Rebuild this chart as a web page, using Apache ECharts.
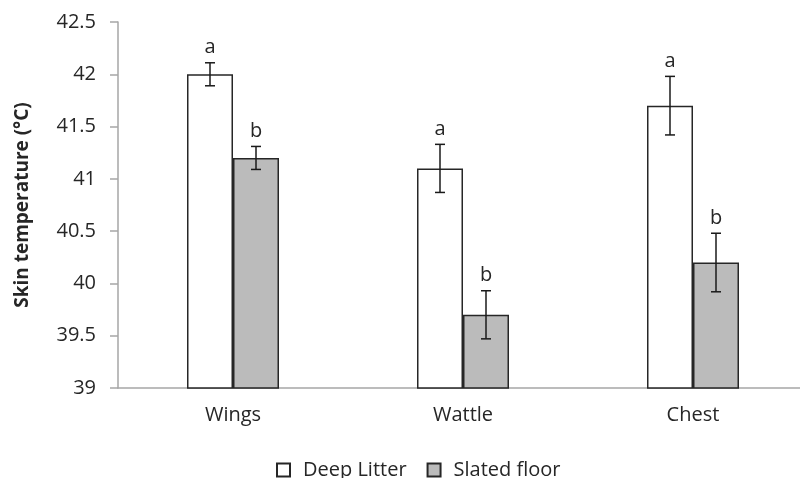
<!DOCTYPE html>
<html><head><meta charset="utf-8">
<script src="https://cdn.jsdelivr.net/npm/echarts@6/dist/echarts.min.js"></script>
<style>html,body{margin:0;padding:0;background:#fff}#c{width:800px;height:478px}</style>
</head><body><div id="c"></div>
<script>
var categories = ['Wings', 'Wattle', 'Chest'];
var deepLitter = [42.0, 41.1, 41.7];
var deepLitterErr = [0.11, 0.23, 0.28];
var deepLitterSig = ['a', 'a', 'a'];
var slatedFloor = [41.2, 39.7, 40.2];
var slatedFloorErr = [0.11, 0.23, 0.28];
var slatedFloorSig = ['b', 'b', 'b'];
var yTicks = { min: 39, max: 42.5, interval: 0.5 };

var FONT = '"Open Sans", "Noto Sans", sans-serif';
var TXT = '#262626';

function errData(vals, errs, sigs) {
  return vals.map(function (v, i) { return [i, v, v - errs[i], v + errs[i], sigs[i]]; });
}
function errRender(sign) {
  return function (params, api) {
    var i = api.value(0);
    var band = api.size([1, 0])[0];
    var off = sign * band * 0.1;
    var lo = api.coord([i, api.value(2)]);
    var hi = api.coord([i, api.value(3)]);
    var x = lo[0] + off;
    var cap = 5;
    var st = { stroke: '#1a1a1a', lineWidth: 1.5 };
    return {
      type: 'group',
      children: [
        { type: 'line', shape: { x1: x, y1: lo[1], x2: x, y2: hi[1] }, style: st },
        { type: 'line', shape: { x1: x - cap, y1: lo[1], x2: x + cap, y2: lo[1] }, style: st },
        { type: 'line', shape: { x1: x - cap, y1: hi[1], x2: x + cap, y2: hi[1] }, style: st },
        { type: 'text', x: x, y: hi[1] - 5, style: { text: api.value(4), fill: TXT, font: '20px ' + FONT, align: 'center', verticalAlign: 'bottom' } }
      ]
    };
  };
}

var chart = echarts.init(document.getElementById('c'), null, { renderer: 'canvas' });
chart.setOption({
  animation: false,
  backgroundColor: '#fff',
  grid: { left: 118, top: 22, width: 690, height: 366, containLabel: false, outerBoundsMode: 'none' },
  legend: {
    left: 271, top: 455,
    itemWidth: 13, itemHeight: 13, itemGap: 20,
    icon: 'rect',
    textStyle: { fontFamily: FONT, fontSize: 20, color: TXT, padding: [0, 0, 0, 8] },
    data: ['Deep Litter', 'Slated floor']
  },
  xAxis: {
    type: 'category', data: categories,
    axisLine: { lineStyle: { color: '#a6a6a6', width: 1.5 } },
    axisTick: { show: false },
    axisLabel: { fontFamily: FONT, fontSize: 20, color: TXT, margin: 17 }
  },
  yAxis: {
    type: 'value', min: yTicks.min, max: yTicks.max, interval: yTicks.interval,
    name: 'Skin temperature (°C)', nameLocation: 'middle', nameGap: 86,
    nameTextStyle: { fontFamily: FONT, fontSize: 19, fontWeight: 'bold', color: TXT },
    splitLine: { show: false },
    axisLine: { show: true, lineStyle: { color: '#a6a6a6', width: 1.5 } },
    axisTick: { show: true, length: 8, lineStyle: { color: '#a6a6a6', width: 1.5 } },
    axisLabel: { fontFamily: FONT, fontSize: 20, color: TXT, margin: 22 }
  },
  series: [
    { name: 'Deep Litter', type: 'bar', data: deepLitter, barWidth: '20%', barGap: '0%',
      itemStyle: { color: '#ffffff', borderColor: '#262626', borderWidth: 1.5 } },
    { name: 'Slated floor', type: 'bar', data: slatedFloor, barWidth: '20%', barGap: '0%',
      itemStyle: { color: '#bbbbbb', borderColor: '#262626', borderWidth: 1.5 } },
    { type: 'custom', renderItem: errRender(-1), data: errData(deepLitter, deepLitterErr, deepLitterSig), z: 10 },
    { type: 'custom', renderItem: errRender(1), data: errData(slatedFloor, slatedFloorErr, slatedFloorSig), z: 10 }
  ]
});
</script></body></html>
